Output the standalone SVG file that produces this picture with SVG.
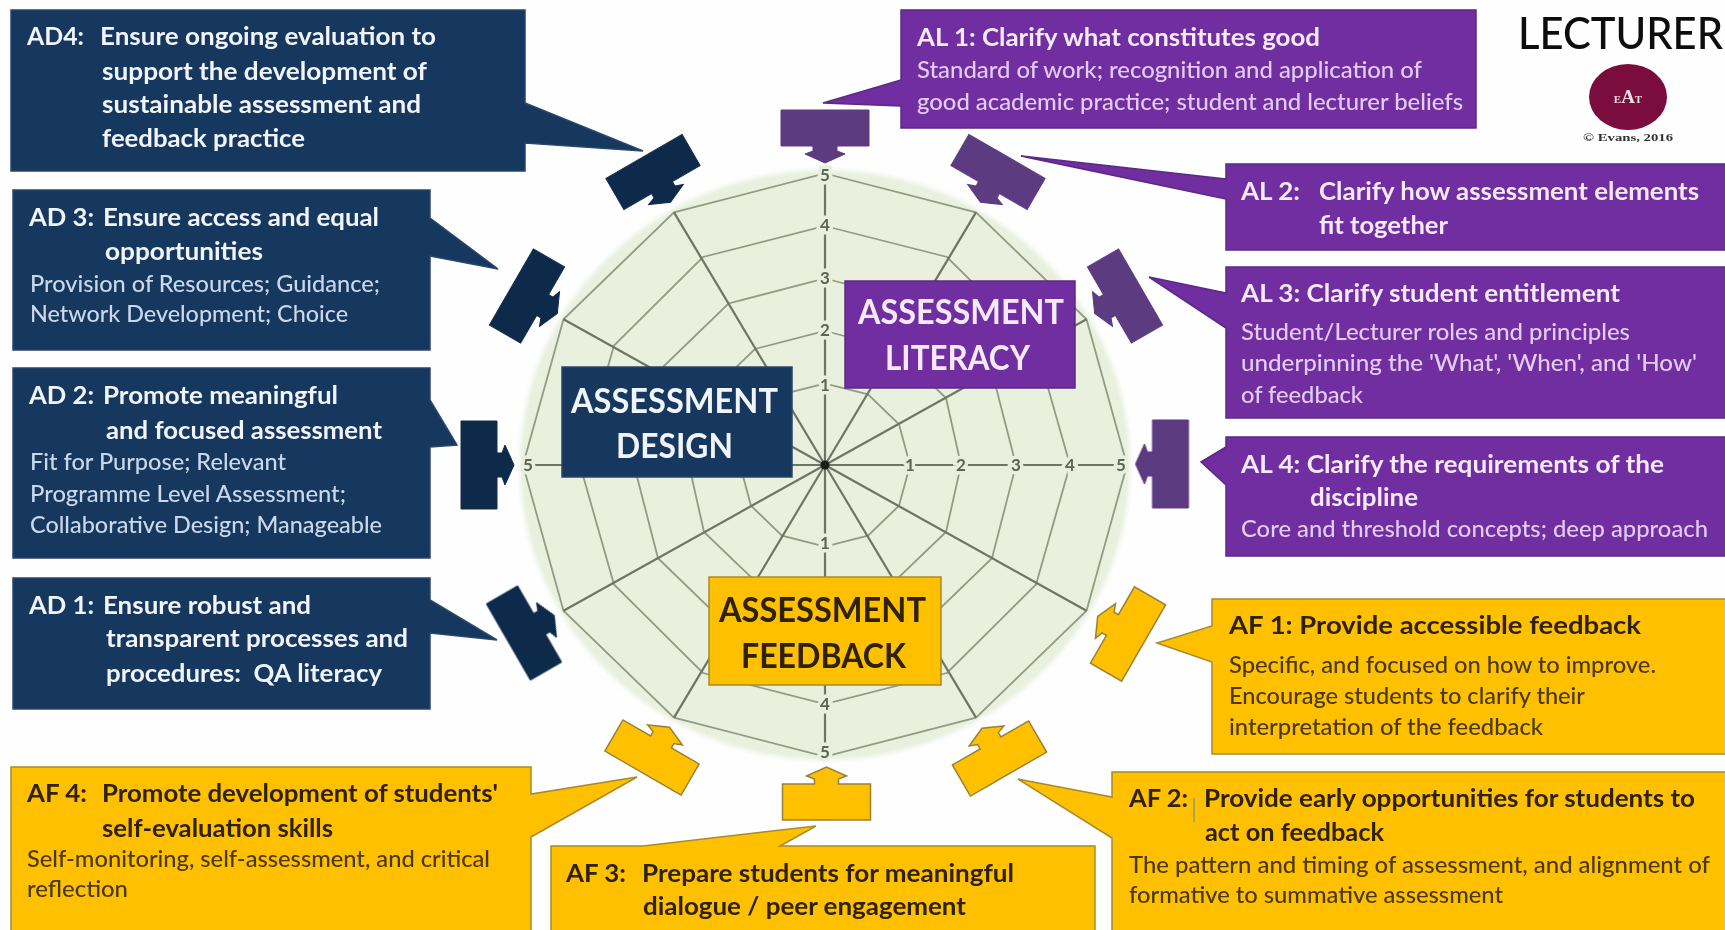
<svg xmlns="http://www.w3.org/2000/svg" width="1725" height="930" viewBox="0 0 1725 930">
<style>
text{font-family:Lato,"Open Sans","Liberation Sans",sans-serif}
.b{font-size:24px;font-weight:700}
.r{font-size:23px;font-weight:500}
.h{font-size:34px;font-weight:700}
.ad{fill:#17375e;stroke:#2a466c;stroke-width:1.5}
.al{fill:#6f2da0;stroke:#5b2a85;stroke-width:1.5}
.af{fill:#ffc000;stroke:#a98a2a;stroke-width:1.5}
.ad-t .b,.ad-t .h{fill:#f1f5fb}.ad-t .r{fill:#cbd8ea}
.al-t .b,.al-t .h{fill:#f5e9fc}.al-t .r{fill:#e2cdf0}
.af-t .b,.af-t .h{fill:#2e2000}.af-t .r{fill:#4a3805}
.tad{fill:#102a4c;stroke:#102a4c}
.tal{fill:#5c3b80;stroke:#5c3b80}
.taf{fill:#ffc000;stroke:#9a8035;stroke-width:1.5}
.ring{fill:none;stroke:#949b83;stroke-width:1.8}
.spoke{stroke:#6f7564;stroke-width:2.2}
.lab{font-size:17px;font-weight:700;fill:#5d6354;text-anchor:middle;paint-order:stroke;stroke:#e8efdc;stroke-width:7px}
</style>
<defs>
<filter id="soft" x="0" y="0" width="100%" height="100%" filterUnits="userSpaceOnUse"><feGaussianBlur stdDeviation="0.55"/></filter>
<filter id="edge"><feGaussianBlur stdDeviation="2"/></filter>
<path id="tee" d="M-44,-18H44V18H12V23L20,26L0,35L-20,26L-12,23V18H-44Z"/>
</defs>
<rect width="1725" height="930" fill="#fefefe"/>
<g filter="url(#soft)">
<g id="radar">
<ellipse cx="825" cy="465" rx="305" ry="295" fill="#e9f0de" filter="url(#edge)"/>
<polygon class="ring" points="825,383.5 868,394.4 899,424.3 910,465 899,505.7 868,535.6 825,546.5 782,535.6 751,505.7 740,465 751,424.3 782,394.4"/>
<polygon class="ring" points="825,331 895,349 946,398 961,465 946,532 895,581 825,599 755,581 704,532 689,465 704,398 755,349"/>
<polygon class="ring" points="825,278.5 921.5,303.5 992,371.8 1016,465 992,558.2 921.5,626.5 825,651.5 728.5,626.5 658,558.2 634,465 658,371.8 728.5,303.5"/>
<polygon class="ring" points="825,226 947,257 1036,345.5 1070,465 1036,584.5 947,673 825,704 703,673 614,584.5 580,465 614,345.5 703,257"/>
<polygon class="ring" points="825,173.5 976,212.4 1086.5,319.3 1127,465 1086.5,610.7 976,717.6 825,756.5 674,717.6 563.5,610.7 523,465 563.5,319.3 674,212.4"/>
<g class="spoke">
<line x1="825" y1="465" x2="825" y2="173.5"/><line x1="825" y1="465" x2="976" y2="212.4"/><line x1="825" y1="465" x2="1086.5" y2="319.3"/><line x1="825" y1="465" x2="1127" y2="465"/><line x1="825" y1="465" x2="1086.5" y2="610.7"/><line x1="825" y1="465" x2="976" y2="717.6"/><line x1="825" y1="465" x2="825" y2="756.5"/><line x1="825" y1="465" x2="674" y2="717.6"/><line x1="825" y1="465" x2="563.5" y2="610.7"/><line x1="825" y1="465" x2="523" y2="465"/><line x1="825" y1="465" x2="563.5" y2="319.3"/><line x1="825" y1="465" x2="674" y2="212.4"/>
</g>
<circle cx="825" cy="465" r="4.5" fill="#1a1a14"/>
<text class="lab" x="825" y="391">1</text><text class="lab" x="825" y="336">2</text><text class="lab" x="825" y="284">3</text><text class="lab" x="825" y="231">4</text><text class="lab" x="825" y="181">5</text>
<text class="lab" x="910" y="471">1</text><text class="lab" x="961" y="471">2</text><text class="lab" x="1016" y="471">3</text><text class="lab" x="1070" y="471">4</text><text class="lab" x="1121" y="471">5</text>
<text class="lab" x="825" y="549">1</text><text class="lab" x="825" y="710">4</text><text class="lab" x="825" y="758">5</text>
<text class="lab" x="528" y="471">5</text>
</g>
<g id="connectors">
<use href="#tee" class="tal" transform="translate(825,128)"/>
<use href="#tee" class="tal" transform="translate(998,172) rotate(30)"/>
<use href="#tee" class="tal" transform="translate(1125,296) rotate(60)"/>
<use href="#tee" class="tal" transform="translate(1170.5,464) rotate(90)"/>
<use href="#tee" class="taf" transform="translate(1128,634) rotate(120)"/>
<use href="#tee" class="taf" transform="translate(999.5,758.5) rotate(150)"/>
<use href="#tee" class="taf" transform="translate(826.5,802) rotate(180)"/>
<use href="#tee" class="taf" transform="translate(652,757.5) rotate(210)"/>
<use href="#tee" class="tad" transform="translate(524,633) rotate(240)"/>
<use href="#tee" class="tad" transform="translate(479,465) rotate(270)"/>
<use href="#tee" class="tad" transform="translate(527,296) rotate(300)"/>
<use href="#tee" class="tad" transform="translate(653,172) rotate(330)"/>
</g>
<g id="assessment-literacy" class="al-t"><rect class="al" x="845" y="281" width="230" height="107"/>
<text class="h" x="858" y="324" textLength="206" lengthAdjust="spacingAndGlyphs">ASSESSMENT</text><text class="h" x="885" y="370" textLength="145" lengthAdjust="spacingAndGlyphs">LITERACY</text></g>
<g id="assessment-design" class="ad-t"><rect class="ad" x="562" y="367" width="230" height="110"/>
<text class="h" x="571" y="413" textLength="207" lengthAdjust="spacingAndGlyphs">ASSESSMENT</text><text class="h" x="616" y="458" textLength="117" lengthAdjust="spacingAndGlyphs">DESIGN</text></g>
<g id="assessment-feedback" class="af-t"><rect class="af" x="709" y="577" width="232" height="108"/>
<text class="h" x="719" y="622" textLength="207" lengthAdjust="spacingAndGlyphs">ASSESSMENT</text><text class="h" x="741" y="668" textLength="165" lengthAdjust="spacingAndGlyphs">FEEDBACK</text></g>

<g id="ad4" class="ad-t"><path class="ad" d="M11,10H525V103L643,151L525,143V171H11Z"/>
<text class="b" x="27" y="45" textLength="57" lengthAdjust="spacingAndGlyphs">AD4:</text><text class="b" x="100" y="45" textLength="336" lengthAdjust="spacingAndGlyphs">Ensure ongoing evaluation to</text>
<text class="b" x="102" y="80" textLength="325" lengthAdjust="spacingAndGlyphs">support the development of</text>
<text class="b" x="102" y="113" textLength="319" lengthAdjust="spacingAndGlyphs">sustainable assessment and</text>
<text class="b" x="102" y="147" textLength="203" lengthAdjust="spacingAndGlyphs">feedback practice</text></g>

<g id="ad3" class="ad-t"><path class="ad" d="M13,190H430V218L498,269L430,256V350H13Z"/>
<text class="b" x="29" y="226" textLength="65" lengthAdjust="spacingAndGlyphs">AD 3:</text><text class="b" x="103" y="226" textLength="276" lengthAdjust="spacingAndGlyphs">Ensure access and equal</text>
<text class="b" x="105" y="260" textLength="158" lengthAdjust="spacingAndGlyphs">opportunities</text>
<text class="r" x="30" y="292" textLength="350" lengthAdjust="spacingAndGlyphs">Provision of Resources; Guidance;</text>
<text class="r" x="30" y="322" textLength="318" lengthAdjust="spacingAndGlyphs">Network Development; Choice</text></g>

<g id="ad2" class="ad-t"><path class="ad" d="M13,368H430V400L457,445L430,447V558H13Z"/>
<text class="b" x="29" y="404" textLength="65" lengthAdjust="spacingAndGlyphs">AD 2:</text><text class="b" x="103" y="404" textLength="235" lengthAdjust="spacingAndGlyphs">Promote meaningful</text>
<text class="b" x="106" y="439" textLength="276" lengthAdjust="spacingAndGlyphs">and focused assessment</text>
<text class="r" x="30" y="470" textLength="256" lengthAdjust="spacingAndGlyphs">Fit for Purpose; Relevant</text>
<text class="r" x="30" y="502" textLength="316" lengthAdjust="spacingAndGlyphs">Programme Level Assessment;</text>
<text class="r" x="30" y="533" textLength="352" lengthAdjust="spacingAndGlyphs">Collaborative Design; Manageable</text></g>

<g id="ad1" class="ad-t"><path class="ad" d="M13,578H430V600L497,640L430,633V709H13Z"/>
<text class="b" x="29" y="614" textLength="65" lengthAdjust="spacingAndGlyphs">AD 1:</text><text class="b" x="103" y="614" textLength="208" lengthAdjust="spacingAndGlyphs">Ensure robust and</text>
<text class="b" x="106" y="647" textLength="302" lengthAdjust="spacingAndGlyphs">transparent processes and</text>
<text class="b" x="106" y="682" textLength="276" lengthAdjust="spacingAndGlyphs" xml:space="preserve">procedures:  QA literacy</text></g>

<g id="al1" class="al-t"><path class="al" d="M901,10H1476V128H901V106L823,103L901,80Z"/>
<text class="b" x="917" y="46" textLength="403" lengthAdjust="spacingAndGlyphs">AL 1: Clarify what constitutes good</text>
<text class="r" x="917" y="78" textLength="505" lengthAdjust="spacingAndGlyphs">Standard of work; recognition and application of</text>
<text class="r" x="917" y="110" textLength="546" lengthAdjust="spacingAndGlyphs">good academic practice; student and lecturer beliefs</text></g>

<g id="al2" class="al-t"><path class="al" d="M1226,164H1726V250H1226V199L1021,156L1226,179Z"/>
<text class="b" x="1241" y="200" textLength="59" lengthAdjust="spacingAndGlyphs">AL 2:</text><text class="b" x="1319" y="200" textLength="380" lengthAdjust="spacingAndGlyphs">Clarify how assessment elements</text>
<text class="b" x="1319" y="234" textLength="129" lengthAdjust="spacingAndGlyphs">fit together</text></g>

<g id="al3" class="al-t"><path class="al" d="M1226,267H1726V418H1226V328L1149,277L1226,293Z"/>
<text class="b" x="1241" y="302" textLength="379" lengthAdjust="spacingAndGlyphs">AL 3: Clarify student entitlement</text>
<text class="r" x="1241" y="340" textLength="389" lengthAdjust="spacingAndGlyphs">Student/Lecturer roles and principles</text>
<text class="r" x="1241" y="371" textLength="456" lengthAdjust="spacingAndGlyphs">underpinning the 'What', 'When', and 'How'</text>
<text class="r" x="1241" y="403" textLength="122" lengthAdjust="spacingAndGlyphs">of feedback</text></g>

<g id="al4" class="al-t"><path class="al" d="M1226,437H1726V556H1226V485L1201,462L1226,447Z"/>
<text class="b" x="1241" y="473" textLength="423" lengthAdjust="spacingAndGlyphs">AL 4: Clarify the requirements of the</text>
<text class="b" x="1310" y="506" textLength="108" lengthAdjust="spacingAndGlyphs">discipline</text>
<text class="r" x="1241" y="537" textLength="467" lengthAdjust="spacingAndGlyphs">Core and threshold concepts; deep approach</text></g>

<g id="af1" class="af-t"><path class="af" d="M1212,599H1726V754H1212V662L1157,643L1212,626Z"/>
<text class="b" x="1229" y="634" textLength="412" lengthAdjust="spacingAndGlyphs">AF 1: Provide accessible feedback</text>
<text class="r" x="1229" y="673" textLength="427" lengthAdjust="spacingAndGlyphs">Specific, and focused on how to improve.</text>
<text class="r" x="1229" y="704" textLength="356" lengthAdjust="spacingAndGlyphs">Encourage students to clarify their</text>
<text class="r" x="1229" y="735" textLength="314" lengthAdjust="spacingAndGlyphs">interpretation of the feedback</text></g>

<g id="af2" class="af-t"><path class="af" d="M1112,772H1726V932H1112V838L1018,779L1112,797Z"/>
<text class="b" x="1129" y="807" textLength="59" lengthAdjust="spacingAndGlyphs">AF 2:</text>
<line x1="1194" y1="798" x2="1194" y2="822" stroke="#7f8a8a" stroke-width="1.2"/>
<text class="b" x="1204" y="807" textLength="491" lengthAdjust="spacingAndGlyphs">Provide early opportunities for students to</text>
<text class="b" x="1205" y="841" textLength="179" lengthAdjust="spacingAndGlyphs">act on feedback</text>
<text class="r" x="1129" y="873" textLength="581" lengthAdjust="spacingAndGlyphs">The pattern and timing of assessment, and alignment of</text>
<text class="r" x="1129" y="903" textLength="374" lengthAdjust="spacingAndGlyphs">formative to summative assessment</text></g>

<g id="af3" class="af-t"><path class="af" d="M551,846H643L816,826L780,846H1095V932H551Z"/>
<text class="b" x="566" y="882" textLength="60" lengthAdjust="spacingAndGlyphs">AF 3:</text><text class="b" x="642" y="882" textLength="372" lengthAdjust="spacingAndGlyphs">Prepare students for meaningful</text>
<text class="b" x="643" y="915" textLength="323" lengthAdjust="spacingAndGlyphs">dialogue / peer engagement</text></g>

<g id="af4" class="af-t"><path class="af" d="M11,767H531V794L637,777L531,837V932H11Z"/>
<text class="b" x="27" y="802" textLength="60" lengthAdjust="spacingAndGlyphs">AF 4:</text><text class="b" x="102" y="802" textLength="396" lengthAdjust="spacingAndGlyphs">Promote development of students'</text>
<text class="b" x="102" y="837" textLength="231" lengthAdjust="spacingAndGlyphs">self-evaluation skills</text>
<text class="r" x="27" y="867" textLength="463" lengthAdjust="spacingAndGlyphs">Self-monitoring, self-assessment, and critical</text>
<text class="r" x="27" y="897" textLength="101" lengthAdjust="spacingAndGlyphs">reflection</text></g>

<g id="lecturer-badge">
<text x="1518" y="49" font-size="44" font-weight="500" fill="#0d0d0d" textLength="205" lengthAdjust="spacingAndGlyphs">LECTURER</text>
<ellipse cx="1628" cy="97" rx="39" ry="33" fill="#7a0f3c"/>
<text x="1628" y="103" text-anchor="middle" style="font-family:'Liberation Serif',serif" font-weight="700" fill="#f1dfe6"><tspan font-size="11">E</tspan><tspan font-size="19">A</tspan><tspan font-size="11">T</tspan></text>
<text x="1583" y="141" style="font-family:'Liberation Serif',serif" font-size="11" font-weight="700" fill="#333" textLength="90" lengthAdjust="spacingAndGlyphs">© Evans, 2016</text>
</g>
</g>
</svg>
